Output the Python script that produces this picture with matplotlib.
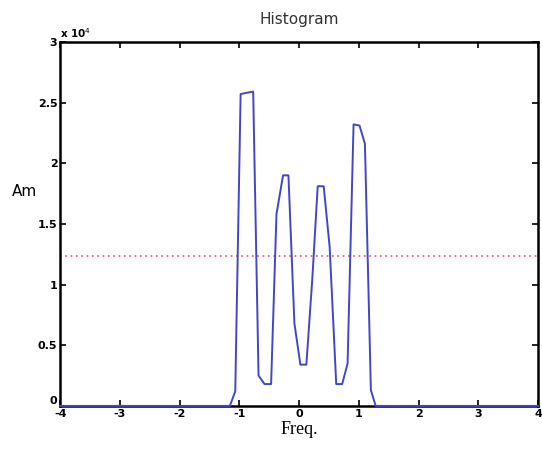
import matplotlib
matplotlib.use('Agg')
import matplotlib.pyplot as plt

# histogram curve
freq = [-4.0, -1.16, -1.07, -0.98, -0.88, -0.77, -0.68, -0.58, -0.47,
        -0.38, -0.27, -0.18, -0.08, 0.02, 0.12, 0.22, 0.31, 0.41, 0.51,
        0.62, 0.72, 0.81, 0.91, 1.01, 1.10, 1.20, 1.28, 4.0]
amp = [0, 0, 1200, 25700, 25800, 25900, 2500, 1800, 1800,
       15800, 19000, 19000, 6800, 3400, 3400, 10500, 18100, 18100, 13100,
       1800, 1800, 3500, 23200, 23100, 21600, 1300, 0, 0]
threshold = 12350

x_ticks = [-4, -3, -2, -1, 0, 1, 2, 3, 4]
y_ticks = [0, 5000, 10000, 15000, 20000, 25000, 30000]
y_tick_labels = ['0', '0.5', '1', '1.5', '2', '2.5', '3']


def main():
    fig = plt.figure(figsize=(5.42, 4.5), dpi=100)
    ax = fig.add_axes([0.111, 0.098, 0.882, 0.809])

    ax.plot(freq, amp, color='#4545c8', linewidth=1.4, zorder=4,
            clip_on=False)
    ax.axhline(threshold, color='#e0506e', linestyle=(0, (1, 2.2)),
               linewidth=1.2)

    ax.set_xlim(-4, 4)
    ax.set_ylim(0, 30000)
    ax.set_xticks(x_ticks)
    ax.set_xticklabels([str(t) for t in x_ticks])
    ax.set_yticks(y_ticks)
    ax.set_yticklabels(y_tick_labels)
    ax.tick_params(direction='in', length=4, width=1.2, labelsize=8,
                   top=True, right=True, pad=2)
    for lab in ax.get_xticklabels() + ax.get_yticklabels():
        lab.set_fontweight('bold')
    # the 0 sits just above the corner, clear of the -4 below it
    ax.get_yticklabels()[0].set_verticalalignment('bottom')
    for sp in ax.spines.values():
        sp.set_linewidth(1.8)

    ax.text(0.0, 1.005, r'x 10$^{4}$', transform=ax.transAxes,
            fontsize=7.5, fontweight='bold', va='bottom', ha='left')
    ax.set_title('Histogram', fontsize=11, color='#333333', pad=13)
    ax.set_xlabel('Freq.', family='Liberation Serif', fontsize=13,
                  labelpad=2)
    ax.set_ylabel('Am', fontsize=11, rotation=0, va='center')
    ax.yaxis.set_label_coords(-0.075, 0.59)

    fig.savefig('out.png', dpi=100)


if __name__ == "__main__":
    main()
